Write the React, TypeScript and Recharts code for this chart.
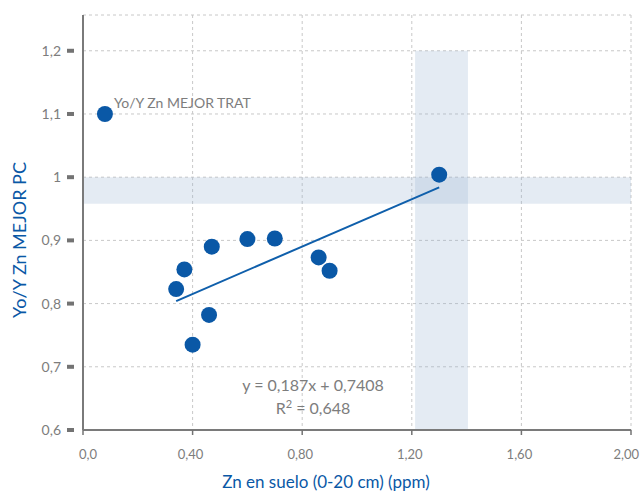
import React from "react";
import {
  Scatter,
  XAxis,
  YAxis,
  CartesianGrid,
  ReferenceArea,
  Line,
  ComposedChart,
} from "recharts";

// puntos
const znSuelo = [0.08, 0.34, 0.37, 0.40, 0.46, 0.47, 0.60, 0.70, 0.86, 0.90, 1.30];
const rendRel = [1.10, 0.823, 0.854, 0.735, 0.782, 0.890, 0.902, 0.903, 0.873, 0.852, 1.004];

// recta de tendencia (extremos)
const trendX = [0.34, 1.3];
const trendY = [0.804, 0.984];

const xTicks = [0, 0.4, 0.8, 1.2, 1.6, 2.0];
const xTickLabels = ["0,0", "0,40", "0,80", "1,20", "1,60", "2,00"];
const yTicks = [0.6, 0.7, 0.8, 0.9, 1.0, 1.1, 1.2];
const yTickLabels = ["0,6", "0,7", "0,8", "0,9", "1", "1,1", "1,2"];

const points = znSuelo.map((x, i) => ({ x, y: rendRel[i] }));
const trend = trendX.map((x, i) => ({ x, t: trendY[i] }));

const FONT = "Lato, 'Open Sans', sans-serif";
const BLUE = "#0a58a6";
const GREY = "#7d7d7d";

const YTick = ({ x, y, payload }: any) => (
  <g>
    <rect x={x - 8} y={y - 2} width={7} height={4} fill="#737373" />
    <text x={x - 14} y={y} dy={5} textAnchor="end" fill={GREY} fontSize={14} fontFamily={FONT}>
      {yTickLabels[yTicks.indexOf(payload.value)] ?? payload.value}
    </text>
  </g>
);

const XTick = ({ x, y, payload }: any) => {
  const i = xTicks.indexOf(payload.value);
  const last = i === xTicks.length - 1;
  return (
    <g>
      <line x1={x} x2={x} y1={y - 8} y2={y - 3} stroke="#737373" strokeWidth={1.5} />
      <text
        x={last ? x + 8 : i === 0 ? x + 5 : x - 2}
        y={y}
        dy={21}
        textAnchor={last ? "end" : "middle"}
        fill={GREY}
        fontSize={13}
        fontFamily={FONT}
      >
        {xTickLabels[i]}
      </text>
    </g>
  );
};

export default function App() {
  return (
    <div style={{ position: "absolute", left: 0, top: 0, background: "#fff" }}>
      <ComposedChart
        width={640}
        height={491}
        margin={{ top: 15, right: 9, left: 0, bottom: 0 }}
      >
        <CartesianGrid stroke="#c8c8c8" strokeDasharray="3 3" />
        <ReferenceArea x1={0} x2={2} y1={0.958} y2={1.0} fill="#97b2d1" fillOpacity={0.26} stroke="none" />
        <ReferenceArea x1={1.212} x2={1.405} y1={0.6} y2={1.2} fill="#97b2d1" fillOpacity={0.26} stroke="none" />
        <XAxis
          type="number"
          dataKey="x"
          domain={[0, 2]}
          ticks={xTicks}
          tick={<XTick />}
          tickLine={false}
          height={61}
          axisLine={{ stroke: "#7a7a7a", strokeWidth: 2 }}
          allowDataOverflow
        />
        <YAxis
          type="number"
          domain={[0.6, 1.2566]}
          ticks={yTicks}
          tick={<YTick />}
          tickLine={false}
          width={83}
          allowDataOverflow
          axisLine={{ stroke: "#7a7a7a", strokeWidth: 2 }}
        />
        <Line
          data={trend}
          dataKey="t"
          type="linear"
          stroke="#0f5fab"
          strokeWidth={2}
          dot={false}
          isAnimationActive={false}
        />
        <Scatter
          data={points}
          dataKey="y"
          fill={BLUE}
          isAnimationActive={false}
          shape={(p: any) => <circle cx={p.cx} cy={p.cy} r={8} fill={BLUE} />}
        />
        <text x={326} y={488} textAnchor="middle" fill={BLUE} fontSize={17} fontFamily={FONT}>
          Zn en suelo (0-20 cm) (ppm)
        </text>
        <text
          x={0}
          y={0}
          transform="translate(26, 240) rotate(-90)"
          textAnchor="middle"
          fill={BLUE}
          fontSize={18}
          fontFamily={FONT}
        >
          Yo/Y Zn MEJOR PC
        </text>
        <text x={114} y={108} fill={GREY} fontSize={14} fontFamily={FONT}>
          Yo/Y Zn MEJOR TRAT
        </text>
        <text x={313} y={391} textAnchor="middle" fill={GREY} fontSize={16} fontFamily={FONT}>
          y = 0,187x + 0,7408
        </text>
        <text x={313} y={414} textAnchor="middle" fill={GREY} fontSize={16} fontFamily={FONT}>
          R<tspan dy={-6} fontSize={11}>2</tspan>
          <tspan dy={6}> = 0,648</tspan>
        </text>
      </ComposedChart>
    </div>
  );
}
